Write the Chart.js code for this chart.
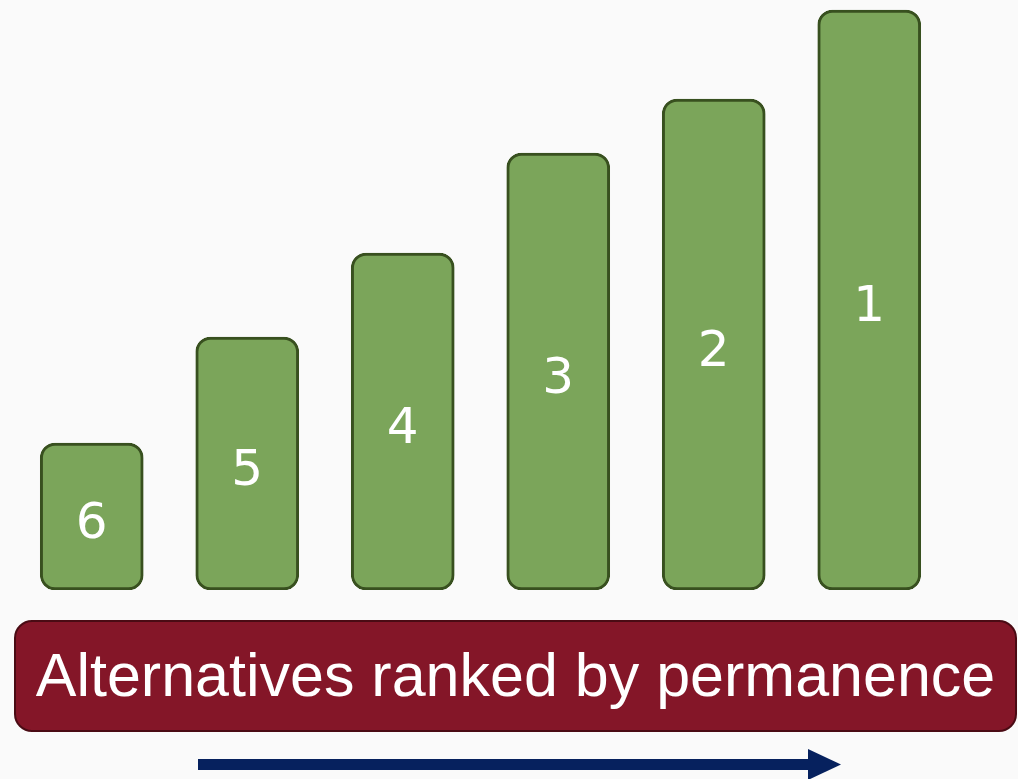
<!DOCTYPE html>
<html>
<head>
<meta charset="utf-8">
<script src="https://cdn.jsdelivr.net/npm/chart.js@4.4.1/dist/chart.umd.min.js"></script>
<style>
    html, body { margin: 0; padding: 0; background: #fafafa; }
    #wrap { position: relative; width: 1018px; height: 779px; overflow: hidden; }
    #chartBox { position: absolute; left: 0; top: 0; width: 1018px; height: 600px; }
    #banner {
        position: absolute; left: 14px; top: 620px; width: 1003px; height: 112px;
        box-sizing: border-box; background: #841628; border: 2px solid #4a0b14; border-radius: 18px;
        color: #fff; font-family: "Liberation Sans", Arial, sans-serif; font-size: 61px;
        display: flex; align-items: center; justify-content: center; padding-bottom: 2px;
    }
    #arrow { position: absolute; left: 0; top: 740px; }
</style>
</head>
<body>
<div id="wrap">
    <div id="chartBox"><canvas id="rankChart"></canvas></div>
    <div id="banner">Alternatives ranked by permanence</div>
    <svg id="arrow" width="1018" height="39">
        <rect x="198" y="19" width="612" height="11" fill="#06215e"></rect>
        <polygon points="808,9 841,24.5 808,40" fill="#06215e"></polygon>
    </svg>
</div>
<script>
// rank labels, left to right
const ranks = ['6', '5', '4', '3', '2', '1'];
// bar heights
const heights = [147, 253, 337, 437, 491, 580];

// draw the rank number inside each bar
const rankLabels = {
    id: 'rankLabels',
    afterDatasetsDraw(chart) {
        const ctx = chart.ctx;
        const meta = chart.getDatasetMeta(0);
        ctx.save();
        ctx.fillStyle = '#ffffff';
        ctx.font = '50px "DejaVu Sans", Verdana, sans-serif';
        ctx.textAlign = 'center';
        ctx.textBaseline = 'alphabetic';
        meta.data.forEach((bar, i) => {
            ctx.fillText(ranks[i], bar.x, (bar.y + bar.base) / 2 + 21);
        });
        ctx.restore();
    }
};

new Chart(document.getElementById('rankChart').getContext('2d'), {
    type: 'bar',
    data: {
        labels: ranks,
        datasets: [{
            data: heights,
            backgroundColor: '#7ba55a',
            borderColor: '#38501f',
            borderWidth: 3,
            borderRadius: 15,
            borderSkipped: false,
            barThickness: 103
        }]
    },
    options: {
        responsive: true,
        maintainAspectRatio: false,
        animation: false,
        layout: { padding: { left: 14, right: 71, top: 0, bottom: 10 } },
        plugins: { legend: { display: false }, tooltip: { enabled: false } },
        scales: {
            x: { display: false },
            y: { display: false, min: 0, max: 590 }
        }
    },
    plugins: [rankLabels]
});
</script>
</body>
</html>
